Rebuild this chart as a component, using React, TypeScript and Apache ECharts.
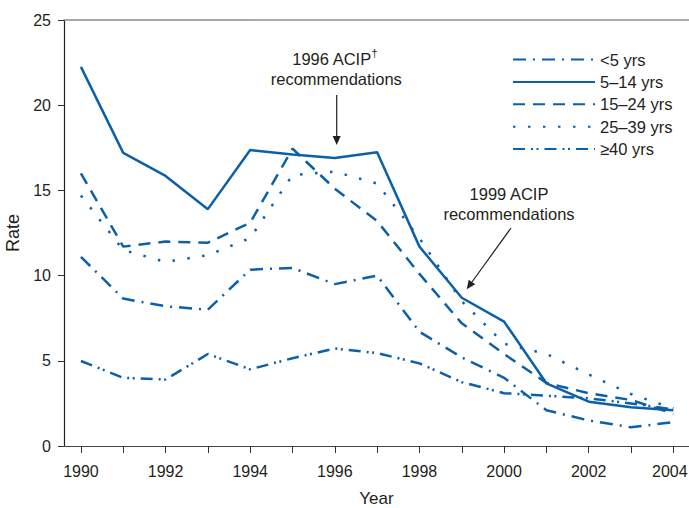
import React, { useEffect, useRef } from "react";
import * as echarts from "echarts";

const years = [1990, 1991, 1992, 1993, 1994, 1995, 1996, 1997, 1998, 1999, 2000, 2001, 2002, 2003, 2004];
const labelYears = [1990, 1992, 1994, 1996, 1998, 2000, 2002, 2004];
const seriesNames = ["<5 yrs", "5–14 yrs", "15–24 yrs", "25–39 yrs", "≥40 yrs"];
const under5 = [11.1, 8.65, 8.2, 8.0, 10.35, 10.45, 9.5, 10.0, 6.7, 5.2, 4.0, 2.1, 1.5, 1.1, 1.4];
const age5to14 = [22.25, 17.2, 15.85, 13.9, 17.37, 17.1, 16.9, 17.24, 11.7, 8.7, 7.3, 3.68, 2.6, 2.27, 2.1];
const age15to24 = [16.0, 11.7, 12.0, 11.93, 13.1, 17.45, 15.1, 13.2, 10.1, 7.2, 5.4, 3.7, 3.1, 2.7, 1.9];
const age25to39 = [14.7, 11.5, 10.8, 11.2, 12.2, 15.9, 16.1, 15.4, 12.2, 8.5, 6.0, 5.4, 4.2, 3.05, 2.2];
const age40plus = [4.99, 4.0, 3.9, 5.4, 4.5, 5.15, 5.72, 5.45, 4.85, 3.75, 3.1, 2.95, 2.8, 2.5, 2.15];

const BLUE = "#0b60a9";
const TEXT = "#231f20";
const FONT = "'Liberation Sans', Arial, Helvetica, sans-serif";

function arrow(x1: number, y1: number, x2: number, y2: number) {
  const dx = x2 - x1;
  const dy = y2 - y1;
  const len = Math.sqrt(dx * dx + dy * dy);
  const ux = dx / len;
  const uy = dy / len;
  const hl = 9;
  const hw = 4;
  const bx = x2 - ux * hl;
  const by = y2 - uy * hl;
  return [
    {
      type: "line",
      shape: { x1, y1, x2: bx, y2: by },
      style: { stroke: TEXT, lineWidth: 1.2 },
      silent: true,
    },
    {
      type: "polygon",
      shape: {
        points: [
          [x2, y2],
          [bx - uy * hw, by + ux * hw],
          [bx + uy * hw, by - ux * hw],
        ],
      },
      style: { fill: TEXT },
      silent: true,
    },
  ];
}

export default function App() {
  const ref = useRef<HTMLDivElement>(null);
  useEffect(() => {
    const chart = echarts.init(ref.current!, null, { renderer: "svg" });
    const values = [under5, age5to14, age15to24, age25to39, age40plus];
    const dashes: any[] = [
      [13, 7, 2, 7],
      "solid",
      [12, 8],
      [2.5, 12.5],
      [12, 6, 2, 3.5, 2, 6],
    ];
    const series = values.map((vals, i) => ({
      name: seriesNames[i],
      type: "line",
      symbol: "none",
      xAxisIndex: 0,
      yAxisIndex: 0,
      data: years.map((y, j) => [y, vals[j]]),
      lineStyle: { color: BLUE, width: 2.5, type: dashes[i] },
      itemStyle: { color: BLUE },
    }));
    const textEl = (text: string, x: number, y: number, size = 16.5) => ({
      type: "text",
      x,
      y,
      style: {
        text,
        fill: TEXT,
        font: `${size}px ${FONT}`,
        align: "center",
        verticalAlign: "middle",
      },
      silent: true,
    });
    chart.setOption({
      animation: false,
      backgroundColor: "#fff",
      textStyle: { fontFamily: FONT },
      grid: { left: 64, right: 0, top: 20, bottom: 62, containLabel: false, outerBoundsMode: "none" },
      xAxis: [
        {
          type: "value",
          min: 1989.6,
          max: 2004.37,
          name: "Year",
          nameLocation: "middle",
          nameGap: 44,
          nameTextStyle: { fontSize: 17, color: TEXT, fontFamily: FONT },
          axisLine: { show: true, lineStyle: { color: "#444", width: 1.2 } },
          axisTick: { show: true, length: 7, customValues: years, lineStyle: { color: "#333", width: 1 } },
          axisLabel: {
            customValues: labelYears,
            fontSize: 16,
            color: TEXT,
            margin: 17,
            fontFamily: FONT,
            formatter: (v: number) => {
              const y = Math.round(v);
              return y === 2004 ? `{last|${y}}` : String(y);
            },
            rich: { last: { fontSize: 16, color: TEXT, fontFamily: FONT, padding: [0, 7, 0, 0] } },
          },
          splitLine: { show: false },
        },
        {
          type: "value",
          position: "top",
          min: 1989.6,
          max: 2004.37,
          axisLine: { show: true, lineStyle: { color: "#8c8c8c", width: 1.5 } },
          axisTick: { show: false },
          axisLabel: { show: false },
          splitLine: { show: false },
        },
      ],
      yAxis: {
        type: "value",
        min: 0,
        max: 25,
        interval: 5,
        name: "Rate",
        nameLocation: "middle",
        nameGap: 35,
        nameTextStyle: { fontSize: 18, color: TEXT, fontFamily: FONT },
        axisLine: { show: true, lineStyle: { color: "#222", width: 1.2 } },
        axisTick: { show: true, length: 6, lineStyle: { color: "#333" } },
        axisLabel: { fontSize: 16, color: TEXT, margin: 13, fontFamily: FONT },
        splitLine: { show: false },
      },
      legend: {
        orient: "vertical",
        left: 507,
        top: 46,
        itemWidth: 82,
        itemHeight: 14,
        itemGap: 5.4,
        selectedMode: false,
        data: seriesNames,
        itemStyle: { color: "rgba(0,0,0,0)", borderWidth: 0, opacity: 0 },
        textStyle: { fontSize: 16.5, color: TEXT, fontFamily: FONT },
      },
      series,
      graphic: [
        textEl("1996 ACIP", 331.7, 58.5),
        textEl("†", 374.5, 53, 11),
        textEl("recommendations", 336.3, 79),
        ...arrow(336.7, 95, 336.7, 145),
        textEl("1999 ACIP", 509, 194),
        textEl("recommendations", 509, 214),
        ...arrow(511, 228, 466.7, 289.3),
      ],
    });
    return () => chart.dispose();
  }, []);
  return <div ref={ref} style={{ position: "absolute", left: 0, top: 0, width: 689, height: 508 }} />;
}
